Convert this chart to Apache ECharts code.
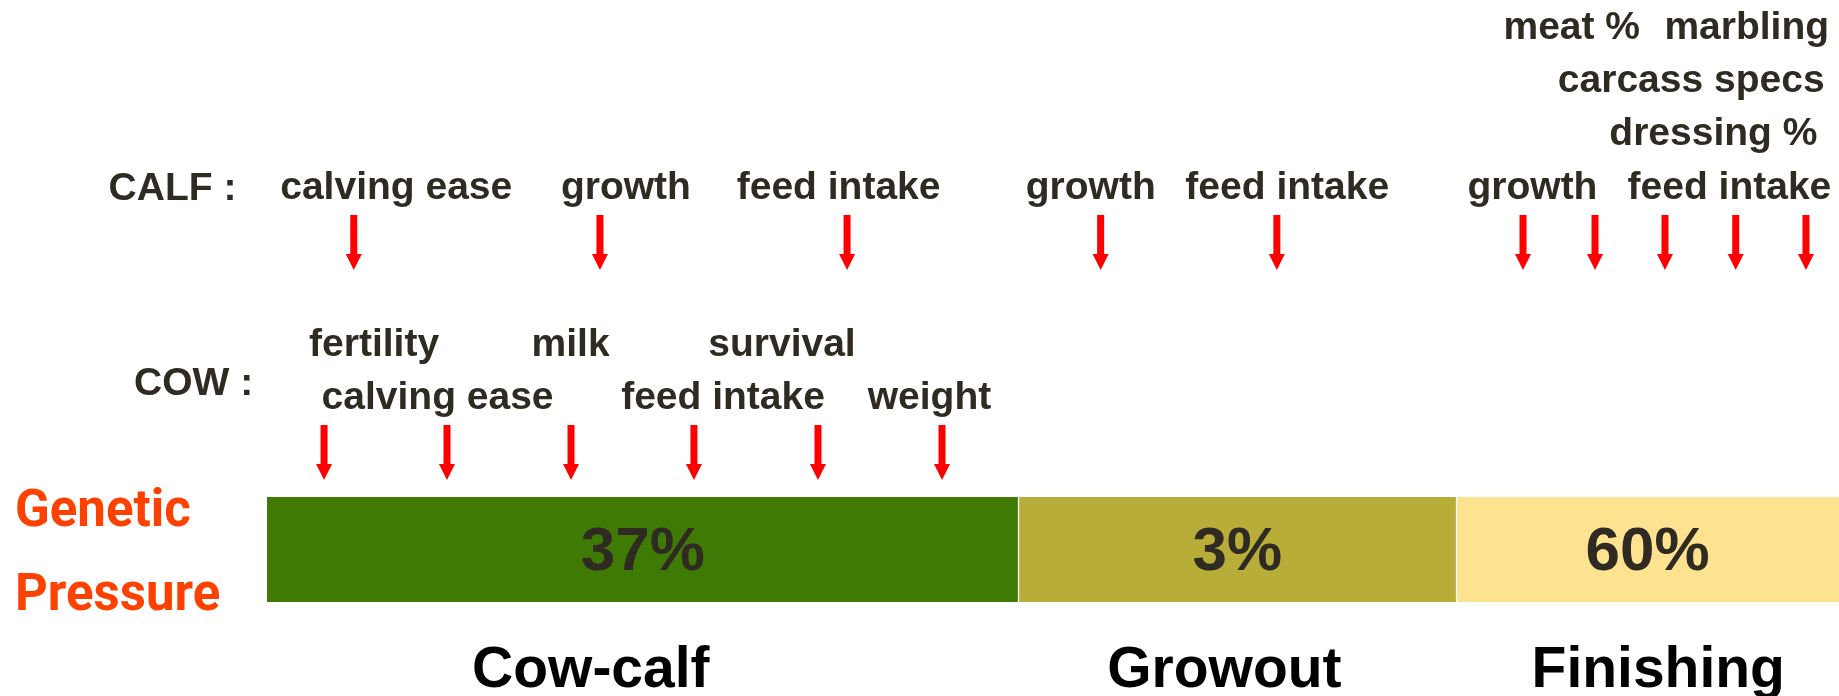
<!DOCTYPE html>
<html>
<head>
<meta charset="utf-8">
<script src="https://cdn.jsdelivr.net/npm/echarts@6/dist/echarts.min.js"></script>
<style>
  html, body { margin: 0; padding: 0; background: #ffffff; }
  #chart { width: 1839px; height: 696px; }
</style>
</head>
<body>
<div id="chart"></div>
<script>
// ---------------- data ----------------
// production stages along the timeline (timeline units, total 100)
const stages = ['Cow-calf', 'Growout', 'Finishing'];
const stageSpan = [47.8, 27.85, 24.35];
const pressure = [37, 3, 60];              // genetic pressure, %
const stageLabelAt = [20.6, 60.9, 88.5];

// selection points (arrows) on the timeline
const calfArrowAt = [5.52, 21.18, 36.9, 53.03, 64.24, 79.9, 84.48, 88.93, 93.43, 97.9];
const cowArrowAt = [3.63, 11.45, 19.34, 27.16, 35.05, 42.94];

// trait labels and their timeline positions
const carcassRow1 = ['meat %', 'marbling'];
const carcassRow1At = [83.0, 94.13];
const carcassRow2 = ['carcass specs'];
const carcassRow2At = [90.6];
const carcassRow3 = ['dressing %'];
const carcassRow3At = [92.01];
const calfTraits = ['calving ease', 'growth', 'feed intake', 'growth', 'feed intake', 'growth', 'feed intake'];
const calfTraitAt = [8.22, 22.83, 36.36, 52.4, 64.9, 80.5, 93.03];
const cowRow1 = ['fertility', 'milk', 'survival'];
const cowRow1At = [6.81, 19.31, 32.76];
const cowRow2 = ['calving ease', 'feed intake', 'weight'];
const cowRow2At = [10.85, 29.01, 42.14];

// ---------------- styling / layout ----------------
const GRID_LEFT = 267;
const TEXT_COLOR = '#302b22';
const SANS = '"Liberation Sans", Arial, Helvetica, sans-serif';
const stageColors = ['#3f7a05', '#b8ad38', '#fde28f'];
const arrowPath = 'path://M4.5,0 L11.5,0 L11.5,39 L16,39 L8,55 L0,39 L4.5,39 Z';

const grids = [];
const xAxes = [];
const yAxes = [];
const series = [];

function addRowGrid(centerY) {
  const idx = grids.length;
  grids.push({ left: GRID_LEFT, right: 0, top: centerY - 1, height: 2 });
  xAxes.push({ type: 'value', gridIndex: idx, min: 0, max: 100, show: false });
  yAxes.push({ type: 'value', gridIndex: idx, min: -1, max: 1, show: false });
  return idx;
}

function textRow(centerY, names, xs, fontSize, color) {
  const g = addRowGrid(centerY);
  series.push({
    type: 'scatter', xAxisIndex: g, yAxisIndex: g, silent: true,
    symbolSize: 1, itemStyle: { color: 'rgba(0,0,0,0)', opacity: 1 },
    label: {
      show: true, position: 'inside', formatter: p => p.name, opacity: 1,
      fontFamily: SANS, fontWeight: 'bold', fontSize: fontSize, color: color
    },
    data: names.map((n, i) => ({ name: n, value: [xs[i], 0] }))
  });
}

function arrowRow(centerY, xs) {
  const g = addRowGrid(centerY);
  series.push({
    type: 'scatter', xAxisIndex: g, yAxisIndex: g, silent: true,
    symbol: arrowPath, symbolSize: [16, 55],
    itemStyle: { color: '#ff0000', opacity: 1 },
    data: xs.map(x => [x, 0])
  });
}

// bar grid
grids.push({ left: GRID_LEFT, right: 0, top: 497, height: 105 });
xAxes.push({ type: 'value', gridIndex: 0, min: 0, max: 100, show: false });
yAxes.push({ type: 'category', gridIndex: 0, data: ['Genetic Pressure'], show: false });

const boundaries = [];
let acc = 0;
stageSpan.forEach((v, i) => { acc += v; if (i < stageSpan.length - 1) boundaries.push(acc); });

stages.forEach((s, i) => {
  const ser = {
    type: 'bar', name: s, stack: 'stage', xAxisIndex: 0, yAxisIndex: 0,
    barWidth: '100%', silent: true,
    itemStyle: { color: stageColors[i] },
    label: {
      show: true, position: 'inside', formatter: pressure[i] + '%', offset: [0, 3],
      fontFamily: SANS, fontWeight: 'bold', fontSize: 62, color: TEXT_COLOR
    },
    data: [stageSpan[i]]
  };
  if (i === stages.length - 1) {
    ser.markLine = {
      silent: true, symbol: 'none', label: { show: false },
      lineStyle: { color: '#ffffff', width: 1.3, type: 'solid' },
      data: boundaries.map(b => ({ xAxis: b }))
    };
  }
  series.push(ser);
});

// rows
textRow(28.5, carcassRow1, carcassRow1At, 39, TEXT_COLOR);
textRow(81.5, carcassRow2, carcassRow2At, 39, TEXT_COLOR);
textRow(134.5, carcassRow3, carcassRow3At, 39, TEXT_COLOR);
textRow(188.5, calfTraits, calfTraitAt, 39, TEXT_COLOR);
arrowRow(242.5, calfArrowAt);
textRow(345, cowRow1, cowRow1At, 39, TEXT_COLOR);
textRow(398, cowRow2, cowRow2At, 39, TEXT_COLOR);
arrowRow(452.5, cowArrowAt);
textRow(671, stages, stageLabelAt, 57, '#000000');

const chart = echarts.init(document.getElementById('chart'), null, { renderer: 'canvas' });
chart.setOption({
  animation: false,
  backgroundColor: '#ffffff',
  grid: grids,
  xAxis: xAxes,
  yAxis: yAxes,
  series: series,
  graphic: [
    { type: 'text', left: 108.6, top: 170, silent: true,
      style: { text: 'CALF :', font: 'bold 39px ' + SANS, fill: TEXT_COLOR } },
    { type: 'text', left: 134, top: 365, silent: true,
      style: { text: 'COW :', font: 'bold 39px ' + SANS, fill: TEXT_COLOR } },
    { type: 'text', left: 15, top: 488, silent: true,
      style: { text: 'Genetic', font: 'bold 51px Roboto, "Noto Sans", sans-serif', fill: '#ff4100' } },
    { type: 'text', left: 15, top: 572, silent: true,
      style: { text: 'Pressure', font: 'bold 51px Roboto, "Noto Sans", sans-serif', fill: '#ff4100' } }
  ]
});
</script>
</body>
</html>
